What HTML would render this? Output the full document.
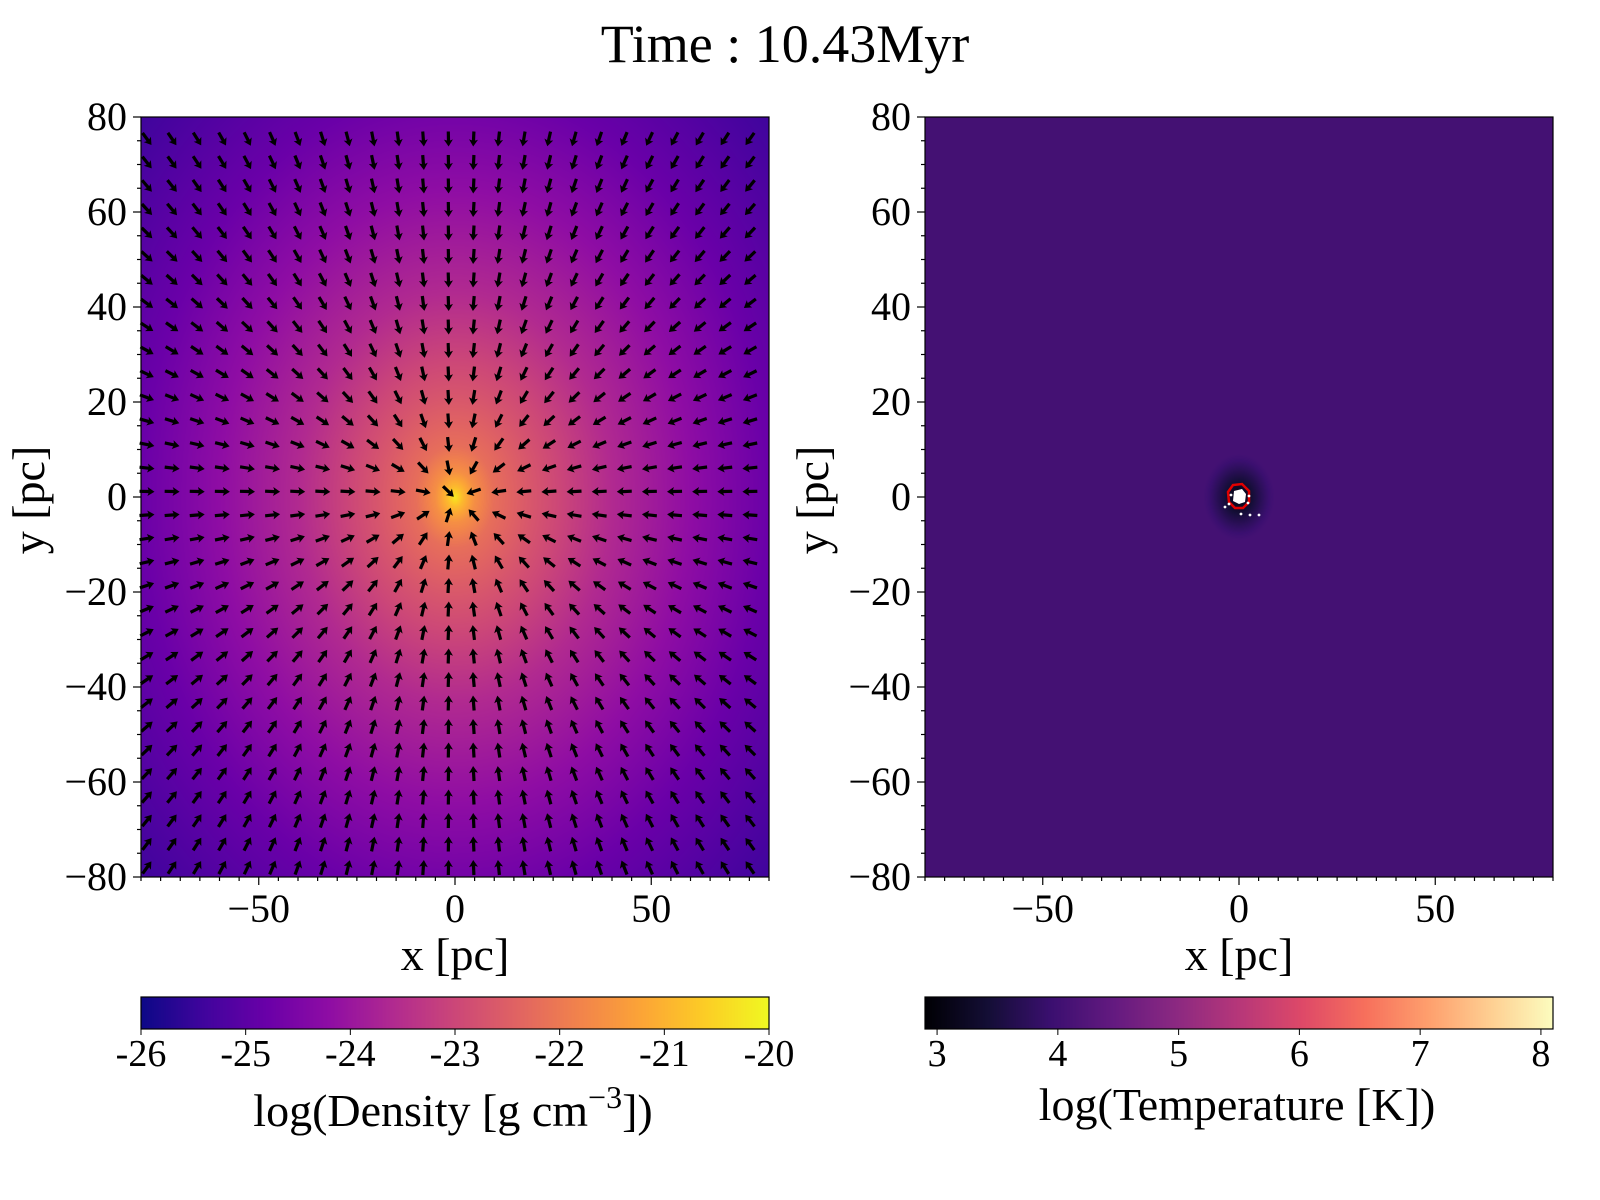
<!DOCTYPE html>
<html><head><meta charset="utf-8"><style>
html,body{margin:0;padding:0;background:#fff;width:1600px;height:1200px;overflow:hidden}
#wrap{position:relative;width:1600px;height:1200px}
canvas,svg{position:absolute;left:0;top:0}
text{font-family:"Liberation Serif",serif;fill:#000}
</style></head><body><div id="wrap">
<canvas id="c" width="1600" height="1200"></canvas>
<svg id="s" width="1600" height="1200"></svg>
</div>
<script>
// ---- data ----
const densRadii = [0, 2, 5, 10, 20, 40, 60, 80, 113];
const densLogRho = [-20.2, -20.9, -21.6, -22.2, -22.7, -23.6, -24.2, -24.8, -25.5];
const tempBackground = 4.05;
const densTicks = [-26, -25, -24, -23, -22, -21, -20];
const tempTicks = [3, 4, 5, 6, 7, 8];
const axisTicksY = [80, 60, 40, 20, 0, -20, -40, -60, -80];
const axisTicksX = [-50, 0, 50];
const plasma = ["#0d0887","#41049d","#6a00a8","#8f0da4","#b12a90","#cc4778","#e16462","#f2844b","#fca636","#fcce25","#f0f921"];
const magma = ["#000004","#140e36","#3b0f70","#641a80","#8c2981","#b73779","#de4968","#f7705c","#fe9f6d","#fecf92","#fcfdbf"];

const NS="http://www.w3.org/2000/svg";
const svg=document.getElementById('s');
const ctx=document.getElementById('c').getContext('2d');
function hex(h){return [parseInt(h.slice(1,3),16),parseInt(h.slice(3,5),16),parseInt(h.slice(5,7),16)];}
function cmap(stops,t){t=Math.max(0,Math.min(1,t));const f=t*(stops.length-1);const i=Math.min(stops.length-2,Math.floor(f));const a=hex(stops[i]),b=hex(stops[i+1]),u=f-i;return [a[0]+(b[0]-a[0])*u,a[1]+(b[1]-a[1])*u,a[2]+(b[2]-a[2])*u];}
function interp(xs,ys,x){if(x<=xs[0])return ys[0];for(let i=1;i<xs.length;i++){if(x<=xs[i]){const u=(x-xs[i-1])/(xs[i]-xs[i-1]);return ys[i-1]+(ys[i]-ys[i-1])*u;}}return ys[ys.length-1];}
function el(tag,attrs,parent){const e=document.createElementNS(NS,tag);for(const k in attrs)e.setAttribute(k,attrs[k]);(parent||svg).appendChild(e);return e;}
function txt(str,x,y,size,anchor,name,parent){const t=el('text',{x:x,y:y,'font-size':size,'text-anchor':anchor||'middle'},parent);t.textContent=str;return t;}

const panels=[{x0:141,x1:769},{x0:925,x1:1553}];
const Y0=117,Y1=877;
function sx(p,v){return panels[p].x0+(v+80)*(panels[p].x1-panels[p].x0)/160;}
function sy(v){return Y0+(80-v)*(Y1-Y0)/160;}

// density image
(function(){const p=panels[0];const w=p.x1-p.x0,h=Y1-Y0;const img=ctx.createImageData(w,h);
for(let j=0;j<h;j++)for(let i=0;i<w;i++){const x=-80+(i+0.5)*160/w,y=80-(j+0.5)*160/h;const r=Math.sqrt(x*x+(y*0.93)*(y*0.93));const v=interp(densRadii,densLogRho,r);const c=cmap(plasma,(v+26)/6);const k=(j*w+i)*4;img.data[k]=c[0];img.data[k+1]=c[1];img.data[k+2]=c[2];img.data[k+3]=255;}
ctx.putImageData(img,p.x0,Y0);})();
// temperature image
(function(){const p=panels[1];const w=p.x1-p.x0,h=Y1-Y0;const img=ctx.createImageData(w,h);
for(let j=0;j<h;j++)for(let i=0;i<w;i++){const x=-80+(i+0.5)*160/w,y=80-(j+0.5)*160/h;const r=Math.sqrt(x*x+y*y);let v=tempBackground;if(r<9)v=tempBackground-1.1*Math.pow(1-r/9,1.2);const c=cmap(magma,(v-2.9)/5.2);const k=(j*w+i)*4;img.data[k]=c[0];img.data[k+1]=c[1];img.data[k+2]=c[2];img.data[k+3]=255;}
ctx.putImageData(img,p.x0,Y0);})();
// colorbars
(function(){const bars=[{p:0,st:plasma},{p:1,st:magma}];for(const b of bars){const p=panels[b.p];for(let i=p.x0;i<p.x1;i++){const c=cmap(b.st,(i-p.x0)/(p.x1-p.x0));ctx.fillStyle='rgb('+c.map(Math.round).join(',')+')';ctx.fillRect(i,997,1,32);}}})();

// title
txt('Time : 10.43Myr',785,62,54,'middle','figure-title');

// arrows (quiver) on density panel
const qg=el('g',{});


for(let j=0;j<33;j++){for(let i=0;i<26;i++){
 const px=141+i*25.12+6, py=139+j*23.5;
 if(px>767||py>876)continue;
 const xv=-80+(px-141)/3.925, yv=80-(py-117)/4.75;
 let dx=-xv,dy=yv*1.4; const m=Math.hypot(dx,dy)||1; dx/=m; dy/=m;
 const L=15, hx=px+dx*L/2, hy=py+dy*L/2, tx=px-dx*L/2, ty=py-dy*L/2;
 const nx=-dy,ny=dx;
 const pts=[[tx+nx*1.6,ty+ny*1.6],[hx-dx*6+nx*1.6,hy-dy*6+ny*1.6],[hx-dx*7+nx*4.5,hy-dy*7+ny*4.5],[hx,hy],[hx-dx*7-nx*4.5,hy-dy*7-ny*4.5],[hx-dx*6-nx*1.6,hy-dy*6-ny*1.6],[tx-nx*1.6,ty-ny*1.6]];
 const a=el('polygon',{points:pts.map(q=>q[0].toFixed(1)+','+q[1].toFixed(1)).join(' '),fill:'#000'},qg);
 
 
}}

// temperature panel features
(function(){const cx=sx(1,0),cy=sy(0);
 const g=el('g',{});
 el('polygon',{points:[cx-5,cy-6,cx+3,cy-8,cx+7,cy-3,cx+6,cy+5,cx,cy+7,cx-6,cy+4].join(' '),fill:'#fff'},g);
 el('polygon',{points:[cx-11,cy-5,cx-6,cy-12,cx+3,cy-13,cx+10,cy-6,cx+10,cy+5,cx+4,cy+11,cx-4,cy+11,cx-10,cy+5].join(' '),fill:'none',stroke:'#e00000','stroke-width':2.5},g);
 [[-14,10],[-8,-2],[10,-1],[9,6],[2,17],[11,18],[20,18],[-10,7]].forEach(d=>{el('circle',{cx:cx+d[0],cy:cy+d[1],r:1.4,fill:'#fff'},g);});
})();

// axes
for(let p=0;p<2;p++){
 const P=panels[p];const g=el('g',{});
 
 
 el('rect',{x:P.x0,y:Y0,width:P.x1-P.x0,height:Y1-Y0,fill:'none',stroke:'#000','stroke-width':1.2},g);
 for(let v=-80;v<=80;v+=5){const y=sy(v);const maj=v%20===0;el('line',{x1:P.x0,x2:P.x0-(maj?8:4),y1:y,y2:y,stroke:'#000','stroke-width':1.2},g);
  const x=sx(p,v);el('line',{x1:x,x2:x,y1:Y1,y2:Y1+(v%50===0?8:4),stroke:'#000','stroke-width':1.2},g);}
 axisTicksY.forEach(v=>{txt(String(v).replace('-','\u2212'),P.x0-14,sy(v)+13,40,'end','y-tick-label',g);});
 axisTicksX.forEach(v=>{txt(String(v).replace('-','\u2212'),sx(p,v),922,40,'middle','x-tick-label',g);});
 txt('x [pc]',(P.x0+P.x1)/2,970,46,'middle','x-axis-title',g);
 const yl=txt('y [pc]',0,0,46,'middle','y-axis-title',g);yl.setAttribute('transform','translate('+(P.x0-97)+',500) rotate(-90)');
 const cb=el('g',{},g);
 el('rect',{x:P.x0,y:997,width:P.x1-P.x0,height:32,fill:'none',stroke:'#000','stroke-width':1.2},cb);
}
densTicks.forEach(v=>{const x=141+(v+26)*(628/6);el('line',{x1:x,x2:x,y1:1029,y2:1035,stroke:'#000'});txt(String(v),x,1066,38,'middle','density-colorbar-tick');});
tempTicks.forEach(v=>{const x=925+(v-2.9)*(628/5.2);el('line',{x1:x,x2:x,y1:1029,y2:1035,stroke:'#000'});txt(String(v),x,1066,38,'middle','temperature-colorbar-tick');});
const dl=txt('',453,1126,46,'middle','density-colorbar-label');
dl.innerHTML='log(Density [g cm<tspan dy="-18" font-size="32">\u22123</tspan><tspan dy="18">])</tspan>';
txt('log(Temperature [K])',1237,1120,46,'middle','temperature-colorbar-label');
</script></body></html>
